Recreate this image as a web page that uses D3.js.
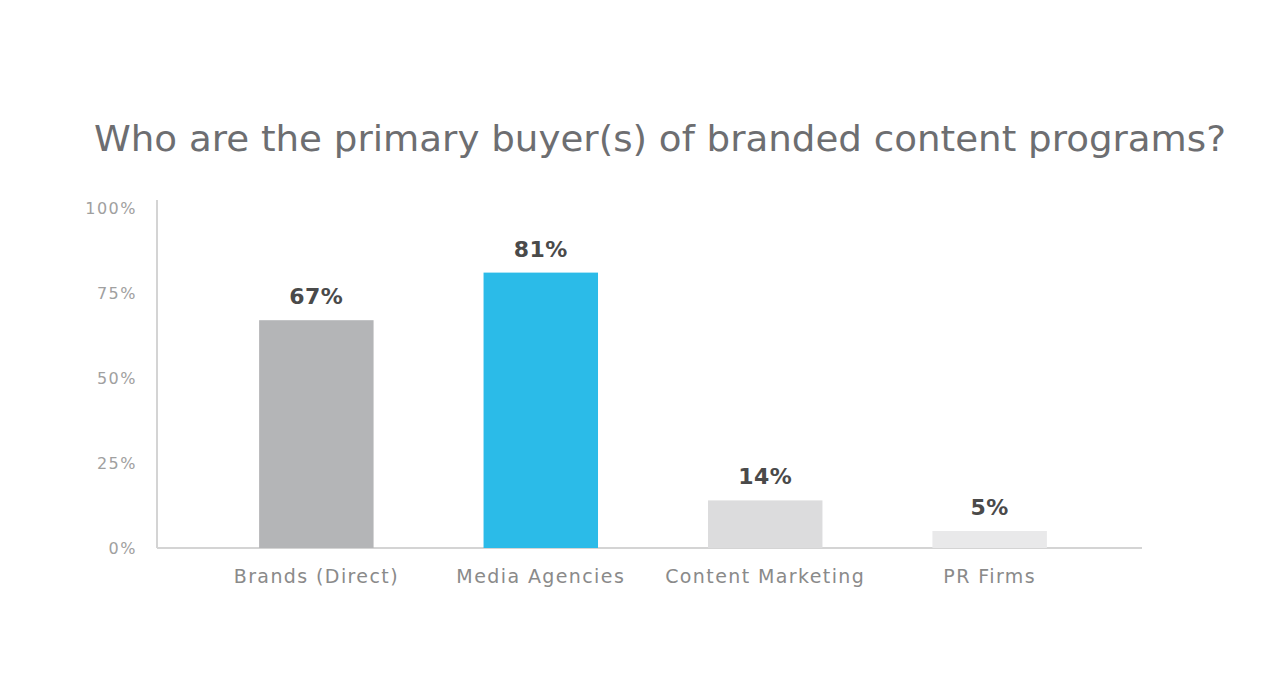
<!DOCTYPE html>
<html lang="en">
<head>
<meta charset="UTF-8" />
<title>Primary buyers of branded content programs</title>
<script src="https://cdn.jsdelivr.net/npm/d3@7"></script>
<style>
  body { margin: 0; background: #fff; }
  svg { display: block; }
</style>
</head>
<body>
<svg id="chart"></svg>
<script>
  // data
  const categories = ["Brands (Direct)", "Media Agencies", "Content Marketing", "PR Firms"];
  const values = [67, 81, 14, 5];
  const barColors = ["#b4b5b7", "#2bbbe8", "#dcdcdd", "#e9e9ea"];
  const yTicks = [0, 25, 50, 75, 100];
  const title = "Who are the primary buyer(s) of branded content programs?";

  const width = 1280, height = 683;
  const svg = d3.select("#chart").attr("width", width).attr("height", height);

  const x = d3.scaleBand()
      .domain(categories)
      .range([203, 1103])
      .paddingInner(0.49)
      .paddingOuter(0.25);

  const y = d3.scaleLinear().domain([0, 100]).range([548, 208]);

  // title
  svg.append("text")
      .attr("x", 660).attr("y", 151)
      .attr("text-anchor", "middle")
      .attr("font-family", "DejaVu Sans, sans-serif")
      .attr("font-size", 35)
      .attr("fill", "#6d6e71")
      .attr("textLength", 1132)
      .attr("lengthAdjust", "spacingAndGlyphs")
      .text(title);

  // y axis
  const yAxis = svg.append("g")
      .attr("transform", "translate(157,0)")
      .call(d3.axisLeft(y).tickValues(yTicks).tickSize(0).tickPadding(20).tickFormat(d => d + "%"));
  yAxis.select(".domain").attr("stroke", "#d4d4d4").attr("stroke-width", 2)
      .attr("d", `M0,${y(100) - 8}V${y(0)}`);
  yAxis.selectAll("text")
      .attr("font-family", "DejaVu Sans, sans-serif")
      .attr("font-size", 16)
      .attr("letter-spacing", 1.5)
      .attr("fill", "#a0a0a0");

  // x axis baseline
  const xAxis = svg.append("g")
      .attr("transform", `translate(0,${y(0)})`)
      .call(d3.axisBottom(x).tickSize(0).tickPadding(22));
  xAxis.select(".domain").attr("stroke", "#d4d4d4").attr("stroke-width", 2)
      .attr("d", "M157,0H1142");
  xAxis.selectAll("text")
      .attr("font-family", "DejaVu Sans, sans-serif")
      .attr("font-size", 19)
      .attr("letter-spacing", 1.4)
      .attr("fill", "#8a8a8a");

  // bars
  svg.append("g").selectAll("rect")
      .data(values)
      .join("rect")
      .attr("x", (d, i) => x(categories[i]))
      .attr("y", d => y(d))
      .attr("width", x.bandwidth())
      .attr("height", d => y(0) - y(d))
      .attr("fill", (d, i) => barColors[i]);

  // value labels
  svg.append("g").selectAll("text")
      .data(values)
      .join("text")
      .attr("x", (d, i) => x(categories[i]) + x.bandwidth() / 2)
      .attr("y", d => y(d) - 16)
      .attr("text-anchor", "middle")
      .attr("font-family", "DejaVu Sans, sans-serif")
      .attr("font-weight", "bold")
      .attr("font-size", 22)
      .attr("letter-spacing", 0.5)
      .attr("fill", "#4a4a4a")
      .text(d => d + "%");
</script>
</body>
</html>
